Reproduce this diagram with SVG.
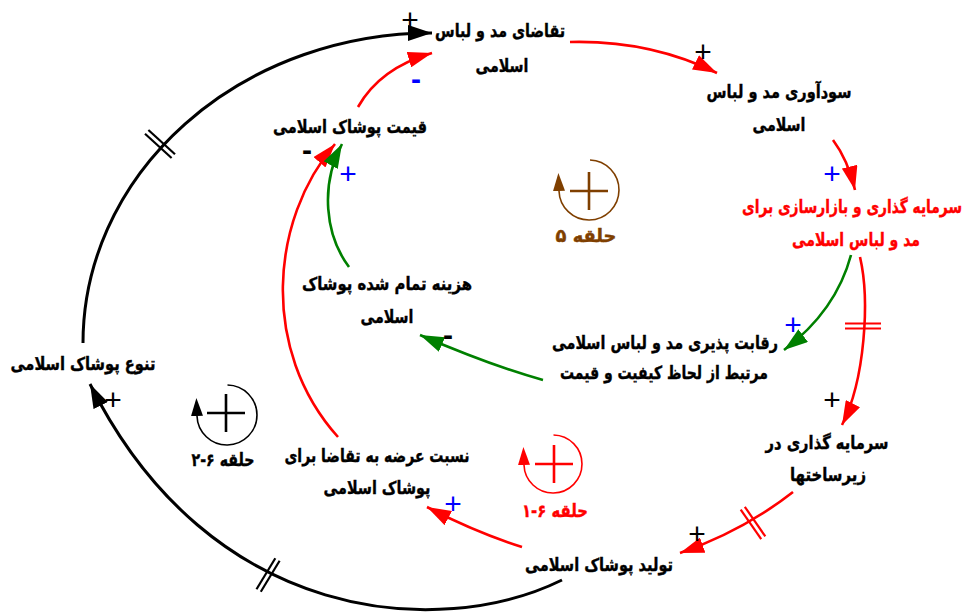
<svg xmlns="http://www.w3.org/2000/svg" width="971" height="612" viewBox="0 0 971 612">
<style>
.fa{font-family:"DejaVu Sans","Noto Sans",sans-serif;font-weight:bold;font-size:18px;direction:rtl;text-anchor:middle;stroke-width:0.4}
.blk{fill:#000;stroke:#000}
.red{fill:#ff0000;stroke:#ff0000}
.brn{fill:#7f3f00;stroke:#7f3f00}
.pl{font-family:"Liberation Sans",Arial,sans-serif;font-size:30px;text-anchor:middle}
.mi{font-family:"Liberation Sans",Arial,sans-serif;font-size:30px;font-weight:bold;text-anchor:middle}
.pb{fill:#000}
.pu{fill:#0000ff}
.lk{fill:none;stroke-width:2.6}
.kb{stroke:#000;stroke-width:3}
.kr{stroke:#ff0000}
.kg{stroke:#008000}
.bar{stroke-width:2.2;fill:none}
.lp{fill:none;stroke-width:1.6}
.lx{stroke-width:2.6;fill:none}
</style>
<defs>
<marker id="ab" viewBox="0 0 24 16" refX="24" refY="8" markerWidth="24" markerHeight="16" markerUnits="userSpaceOnUse" orient="auto"><path d="M0,0 L24,8 L0,16 z" fill="#000"/></marker>
<marker id="ar" viewBox="0 0 24 16" refX="24" refY="8" markerWidth="24" markerHeight="16" markerUnits="userSpaceOnUse" orient="auto"><path d="M0,0 L24,8 L0,16 z" fill="#ff0000"/></marker>
<marker id="ag" viewBox="0 0 24 16" refX="24" refY="8" markerWidth="24" markerHeight="16" markerUnits="userSpaceOnUse" orient="auto"><path d="M0,0 L24,8 L0,16 z" fill="#008000"/></marker>
<marker id="lb" viewBox="0 0 18 12" refX="0" refY="6" markerWidth="18" markerHeight="12" markerUnits="userSpaceOnUse" orient="auto"><path d="M0,0 L18,6 L0,12 z" fill="#000"/></marker>
<marker id="lr" viewBox="0 0 18 12" refX="0" refY="6" markerWidth="18" markerHeight="12" markerUnits="userSpaceOnUse" orient="auto"><path d="M0,0 L18,6 L0,12 z" fill="#ff0000"/></marker>
<marker id="ln" viewBox="0 0 18 12" refX="0" refY="6" markerWidth="18" markerHeight="12" markerUnits="userSpaceOnUse" orient="auto"><path d="M0,0 L18,6 L0,12 z" fill="#7f3f00"/></marker>
</defs>
<rect width="971" height="612" fill="#fff"/>

<g id="connectors">
  <!-- outer black loop -->
  <path class="lk kb" d="M83,343 A349,310 0 0 1 432,33" marker-end="url(#ab)"/>
  <path class="lk kb" d="M562,580 C440,640 210,625 90,384" marker-end="url(#ab)"/>
  <g class="bar" stroke="#000">
    <line x1="148.4" y1="130" x2="175" y2="154.2"/>
    <line x1="145" y1="133.8" x2="171.6" y2="158"/>
    <line x1="260.8" y1="591.8" x2="279.6" y2="560.8"/>
    <line x1="256.5" y1="589.2" x2="275.3" y2="558.2"/>
  </g>
  <!-- red links -->
  <path class="lk kr" d="M570,42 Q650,40 717,73" marker-end="url(#ar)"/>
  <path class="lk kr" d="M833,140 Q848,160 855,190" marker-end="url(#ar)"/>
  <path class="lk kr" d="M860,257 C870,300 865,380 842,425" marker-end="url(#ar)"/>
  <path class="lk kr" d="M793,492 Q743,531 680,553" marker-end="url(#ar)"/>
  <path class="lk kr" d="M522,547 Q475,532 427,507" marker-end="url(#ar)"/>
  <path class="lk kr" d="M338,437 C260,350 270,220 335,144" marker-end="url(#ar)"/>
  <path class="lk kr" d="M358,107 Q380,68 432,53" marker-end="url(#ar)"/>
  <g class="bar" stroke="#ff0000">
    <line x1="845" y1="323.5" x2="881" y2="323.5"/>
    <line x1="845" y1="328.5" x2="881" y2="328.5"/>
    <line x1="744.8" y1="506.8" x2="765.3" y2="536.4"/>
    <line x1="740.7" y1="509.6" x2="761.2" y2="539.2"/>
  </g>
  <!-- green links -->
  <path class="lk kg" d="M851,255 Q836,311 784,350" marker-end="url(#ag)"/>
  <path class="lk kg" d="M543,380 Q492,366 420,335" marker-end="url(#ag)"/>
  <path class="lk kg" d="M349,267 C325,235 320,185 342,144" marker-end="url(#ag)"/>
</g>

<g id="polarities">
  <text class="pl pb" x="410" y="30">+</text>
  <text class="pl pb" x="703" y="62">+</text>
  <text class="pl pu" x="832" y="184">+</text>
  <text class="pl pu" x="793" y="335">+</text>
  <text class="pl pb" x="832" y="410">+</text>
  <text class="pl pb" x="697" y="544">+</text>
  <text class="pl pu" x="453" y="514">+</text>
  <text class="pl pu" x="348" y="184">+</text>
  <text class="pl pb" x="113" y="410">+</text>
  <text class="mi pb" x="307" y="160">-</text>
  <text class="mi pu" x="416" y="89">-</text>
  <text class="mi pb" x="448" y="345">-</text>
</g>

<g id="loops">
  <g id="loop5">
    <path class="lp" stroke="#7f3f00" d="M590,160 A30,30 0 1 1 559,191" marker-end="url(#ln)"/>
    <path class="lx" stroke="#7f3f00" d="M570,191 H608 M589,172 V210"/>
    <text class="fa brn" x="586" y="242" textLength="61" lengthAdjust="spacingAndGlyphs">حلقه ۵</text>
  </g>
  <g id="loop6-2">
    <path class="lp" stroke="#000" d="M227.5,385 A30,30 0 1 1 197,416" marker-end="url(#lb)"/>
    <path class="lx" stroke="#000" d="M207,413 H245 M226,394 V432"/>
    <text class="fa blk" x="223" y="466" textLength="63" lengthAdjust="spacingAndGlyphs">حلقه ۶-۲</text>
  </g>
  <g id="loop6-1">
    <path class="lp" stroke="#ff0000" d="M553.5,435 A29,29 0 1 1 524,465" marker-end="url(#lr)"/>
    <path class="lx" stroke="#ff0000" d="M535,464 H573 M554,445 V483"/>
    <text class="fa red" x="555" y="517" textLength="66" lengthAdjust="spacingAndGlyphs">حلقه ۶-۱</text>
  </g>
</g>

<g id="n-demand">
  <text class="fa blk" x="500" y="37" textLength="130" lengthAdjust="spacingAndGlyphs">تقاضای مد و لباس</text>
  <text class="fa blk" x="502" y="72" textLength="53" lengthAdjust="spacingAndGlyphs">اسلامی</text>
</g>
<g id="n-profit">
  <text class="fa blk" x="779" y="98" textLength="145" lengthAdjust="spacingAndGlyphs">سودآوری مد و لباس</text>
  <text class="fa blk" x="779" y="131" textLength="53" lengthAdjust="spacingAndGlyphs">اسلامی</text>
</g>
<g id="n-invest-market">
  <text class="fa red" x="852" y="213" textLength="220" lengthAdjust="spacingAndGlyphs">سرمایه گذاری و بازارسازی برای</text>
  <text class="fa red" x="856" y="246" textLength="128" lengthAdjust="spacingAndGlyphs">مد و لباس اسلامی</text>
</g>
<g id="n-price">
  <text class="fa blk" x="350" y="133" textLength="154" lengthAdjust="spacingAndGlyphs">قیمت پوشاک اسلامی</text>
</g>
<g id="n-cost">
  <text class="fa blk" x="387" y="290" textLength="170" lengthAdjust="spacingAndGlyphs">هزینه تمام شده پوشاک</text>
  <text class="fa blk" x="387" y="323" textLength="53" lengthAdjust="spacingAndGlyphs">اسلامی</text>
</g>
<g id="n-competitiveness">
  <text class="fa blk" x="665" y="349" textLength="226" lengthAdjust="spacingAndGlyphs">رقابت پذیری مد و لباس اسلامی</text>
  <text class="fa blk" x="664" y="379" textLength="208" lengthAdjust="spacingAndGlyphs">مرتبط از لحاظ کیفیت و قیمت</text>
</g>
<g id="n-variety">
  <text class="fa blk" x="83" y="370" textLength="145" lengthAdjust="spacingAndGlyphs">تنوع پوشاک اسلامی</text>
</g>
<g id="n-infra">
  <text class="fa blk" x="827" y="449" textLength="123" lengthAdjust="spacingAndGlyphs">سرمایه گذاری در</text>
  <text class="fa blk" x="828" y="481" textLength="76" lengthAdjust="spacingAndGlyphs">زیرساختها</text>
</g>
<g id="n-ratio">
  <text class="fa blk" x="377" y="462" textLength="185" lengthAdjust="spacingAndGlyphs">نسبت عرضه به تقاضا برای</text>
  <text class="fa blk" x="377" y="494" textLength="107" lengthAdjust="spacingAndGlyphs">پوشاک اسلامی</text>
</g>
<g id="n-production">
  <text class="fa blk" x="599" y="571" textLength="148" lengthAdjust="spacingAndGlyphs">تولید پوشاک اسلامی</text>
</g>
</svg>
